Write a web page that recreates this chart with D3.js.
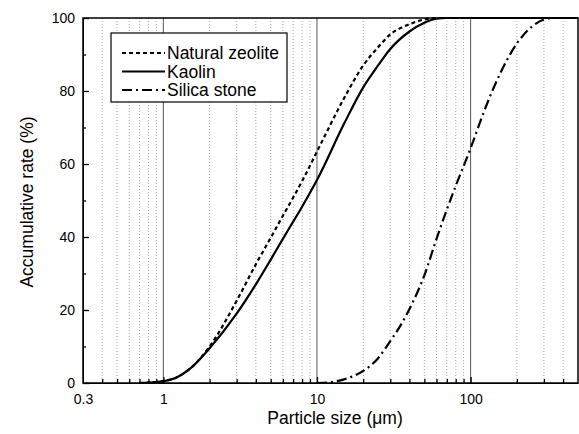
<!DOCTYPE html>
<html>
<head>
<meta charset="utf-8">
<script src="https://cdn.jsdelivr.net/npm/d3@7"></script>
<style>
  body { margin: 0; background: #fff; }
  svg { font-family: "Liberation Sans", Arial, sans-serif; }
</style>
</head>
<body>
<svg width="579" height="434"></svg>
<script>
// particle size (um) and cumulative %
var zeoliteSize = [0.7, 0.8, 1, 1.2, 1.5, 2, 3, 4, 5, 6, 7, 8, 10, 15, 20, 25, 30, 40, 50, 60, 500];
var zeoliteRate = [0, 0.1, 0.5, 1.4, 4, 10, 22.5, 32.5, 39.8, 45.8, 50.8, 55.3, 63.4, 78, 87, 92, 95.5, 98.3, 99.6, 100, 100];

var kaolinSize = [0.7, 0.8, 1, 1.2, 1.5, 2, 3, 4, 5, 6, 7, 8, 10, 15, 20, 25, 30, 40, 50, 60, 70, 500];
var kaolinRate = [0, 0.1, 0.5, 1.4, 4, 9.5, 19, 27, 33.8, 39.5, 44.2, 48.3, 55.6, 71, 81, 87, 91.5, 96.3, 98.7, 99.8, 100, 100];

var silicaSize = [10, 12, 15, 20, 25, 30, 35, 40, 50, 60, 70, 80, 100, 120, 140, 170, 200, 250, 300, 340, 500];
var silicaRate = [0, 0.2, 1, 3.3, 6.8, 11.5, 15.8, 20.3, 29.5, 39.5, 47.5, 54, 64.3, 73.5, 80.5, 88, 93, 97.6, 99.6, 100, 100];

var seriesNames = ["Natural zeolite", "Kaolin", "Silica stone"];
var xLabels = [0.3, 1, 10, 100];
var yTicks = [0, 20, 40, 60, 80, 100];
var yMinor = [10, 30, 50, 70, 90];

var svg = d3.select("svg");
var pLeft = 83, pRight = 578, pTop = 18, pBottom = 383;

var x = d3.scaleLog().domain([0.3, 500]).range([pLeft, pRight]);
var y = d3.scaleLinear().domain([0, 100]).range([pBottom, pTop]);

// minor positions: 0.4..0.9, 2..9, 20..90, 200..400
var minorX = [];
[0.1, 1, 10, 100].forEach(function (d) {
  for (var k = 2; k <= 9; k++) {
    var v = +(d * k).toPrecision(3);
    if (v > 0.3 && v < 500 && v !== 1) minorX.push(v);
  }
});
var majorX = [1, 10, 100];

// grid
svg.append("g").selectAll("line")
  .data(minorX).enter().append("line")
  .attr("x1", function (d) { return x(d); }).attr("x2", function (d) { return x(d); })
  .attr("y1", pTop).attr("y2", pBottom)
  .attr("stroke", "#aaa").attr("stroke-width", 1)
  .attr("stroke-dasharray", "1,2");

svg.append("g").selectAll("line")
  .data(majorX).enter().append("line")
  .attr("x1", function (d) { return x(d); }).attr("x2", function (d) { return x(d); })
  .attr("y1", pTop).attr("y2", pBottom)
  .attr("stroke", "#555").attr("stroke-width", 1);

// axes
var xAxis = svg.append("g").attr("transform", "translate(0," + pBottom + ")")
  .call(d3.axisBottom(x).tickValues(xLabels).tickFormat(d3.format("")).tickSizeInner(-6).tickSizeOuter(0).tickPadding(11));
xAxis.selectAll(".tick").filter(function (d) { return d === 0.3; }).select("line").remove();

svg.append("g").attr("transform", "translate(0," + pBottom + ")")
  .call(d3.axisBottom(x).tickValues(minorX).tickFormat("").tickSizeInner(-4).tickSizeOuter(0))
  .select(".domain").remove();

svg.append("g").attr("transform", "translate(" + pLeft + ",0)")
  .call(d3.axisLeft(y).tickValues(yTicks).tickSizeInner(-6).tickSizeOuter(0).tickPadding(8));

svg.append("g").attr("transform", "translate(" + pLeft + ",0)")
  .call(d3.axisLeft(y).tickValues(yMinor).tickFormat("").tickSizeInner(-3).tickSizeOuter(0))
  .select(".domain").remove();

svg.selectAll(".tick text").attr("font-size", 14).attr("fill", "#000")
  .style("font-family", "'Liberation Sans', Arial, sans-serif");
svg.selectAll(".tick line").attr("stroke", "#000").attr("stroke-width", 1.3);

// frame
svg.append("rect")
  .attr("x", pLeft).attr("y", pTop)
  .attr("width", pRight - pLeft).attr("height", pBottom - pTop)
  .attr("fill", "none").attr("stroke", "#000").attr("stroke-width", 1.5);

// curves
var styles = ["4,3", null, "10,4,2,4"];
var series = [
  d3.zip(zeoliteSize, zeoliteRate),
  d3.zip(kaolinSize, kaolinRate),
  d3.zip(silicaSize, silicaRate)
];
var line = d3.line()
  .x(function (d) { return x(d[0]); })
  .y(function (d) { return y(d[1]); })
  .curve(d3.curveMonotoneX);

svg.append("g").selectAll("path")
  .data(series).enter().append("path")
  .attr("d", line)
  .attr("fill", "none")
  .attr("stroke", "#000")
  .attr("stroke-width", 2.2)
  .attr("stroke-dasharray", function (d, i) { return styles[i]; });

// legend
var legend = svg.append("g");
legend.append("rect")
  .attr("x", 111).attr("y", 33).attr("width", 176).attr("height", 69)
  .attr("fill", "#fff").attr("stroke", "#000").attr("stroke-width", 1.2);
var rows = legend.selectAll(".row")
  .data(seriesNames).enter().append("g")
  .attr("transform", function (d, i) { return "translate(0," + (53 + i * 18.5) + ")"; });
rows.append("line")
  .attr("x1", 122).attr("x2", 165)
  .attr("stroke", "#000").attr("stroke-width", 2)
  .attr("stroke-dasharray", function (d, i) { return styles[i]; });
rows.append("text")
  .attr("x", 167).attr("dy", "0.35em")
  .attr("font-size", 17.5)
  .text(function (d) { return d; });

// axis titles
svg.append("text")
  .attr("x", 335).attr("y", 424)
  .attr("text-anchor", "middle").attr("font-size", 17.5)
  .text("Particle size (\u03bcm)");
svg.append("text")
  .attr("transform", "translate(33,202) rotate(-90)")
  .attr("text-anchor", "middle").attr("font-size", 17.5)
  .text("Accumulative rate (%)");
</script>
</body>
</html>
